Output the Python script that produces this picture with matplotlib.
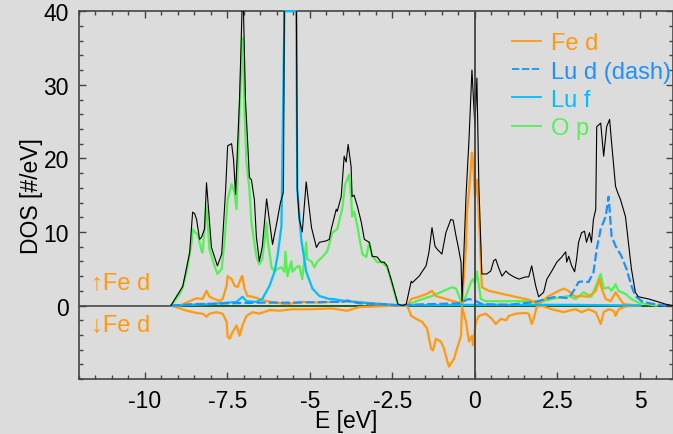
import numpy as np
import matplotlib
matplotlib.use("Agg")
import matplotlib.pyplot as plt
from matplotlib.ticker import MultipleLocator

# total DOS (black)
tot_e = [-9.21, -8.85, -8.64, -8.55, -8.49, -8.43, -8.34, -8.28, -8.19, -8.13, -8.07, -7.98, -7.80,
         -7.67, -7.55, -7.49, -7.37, -7.31, -7.25, -7.13, -7.03, -6.95, -6.83, -6.77, -6.68, -6.62,
         -6.53, -6.44, -6.31, -6.13, -6.0, -5.89, -5.80, -5.77, -5.41, -5.38, -5.32, -5.23, -5.11,
         -4.95, -4.80, -4.71, -4.50, -4.41, -4.35, -4.20, -4.17, -4.05, -3.96, -3.90, -3.84, -3.75,
         -3.72, -3.66, -3.56, -3.44, -3.35, -3.20, -3.11, -2.96, -2.84, -2.75, -2.66, -2.54, -2.33,
         -2.20, -2.08, -1.93, -1.90, -1.69, -1.48, -1.39, -1.30, -1.21, -1.15, -1.00, -0.88, -0.73,
         -0.66, -0.57, -0.51, -0.42, -0.39, -0.27, -0.18, -0.09, 0.0, 0.06, 0.12, 0.21, 0.36, 0.48,
         0.57, 0.63, 0.73, 0.82, 0.94, 1.03, 1.18, 1.33, 1.54, 1.63, 1.72, 1.75, 1.84, 1.93, 2.08,
         2.18, 2.33, 2.48, 2.63, 2.75, 2.78, 2.84, 2.93, 3.02, 3.08, 3.14, 3.23, 3.32, 3.38, 3.47,
         3.53, 3.59, 3.66, 3.69, 3.81, 3.90, 3.99, 4.08, 4.14, 4.23, 4.26, 4.32, 4.41, 4.47, 4.56,
         4.65, 4.74, 4.86, 4.95, 5.26, 5.56, 5.77, 6.0]
tot_dos = [0, 2.6, 7.2, 12.7, 12.5, 11.7, 9.0, 9.3, 10.4, 16.7, 13.1, 7.9, 5.4,
           7.0, 15.8, 21.7, 22.0, 19.8, 15.1, 28.0, 44.0, 28.0, 17.4, 17.1, 14.4, 9.4,
           6.0, 8.0, 14.5, 8.3, 11.3, 14.0, 15.4, 44.0, 44.0, 15.8, 11.7, 10.0, 16.8,
           10.6, 7.9, 8.6, 8.8, 9.0, 10.4, 13.1, 12.8, 14.8, 20.3, 19.5, 21.9, 18.9,
           14.8, 15.0, 13.5, 11.3, 9.0, 8.6, 6.7, 6.6, 5.9, 5.9, 5.4, 3.6, 0.2,
           0.0, 0.2, 3.3, 3.1, 4.0, 5.4, 7.3, 10.6, 8.1, 7.7, 7.0, 9.9, 11.7,
           11.6, 9.4, 8.1, 5.9, 0.6, 14.8, 22.5, 32.0, 24.3, 30.9, 16.2, 4.3, 4.3, 4.7,
           6.1, 6.3, 5.0, 4.0, 4.7, 4.3, 3.9, 3.6, 3.9, 3.9, 5.4, 4.7, 2.7, 1.2, 1.8,
           3.6, 4.7, 5.9, 6.6, 7.3, 5.9, 6.7, 5.4, 4.6, 6.3, 8.6, 9.9, 10.1, 8.6, 9.9,
           8.6, 11.7, 13.1, 24.3, 24.8, 20.3, 24.3, 25.3, 22.1, 17.6, 16.2, 15.4, 14.4, 13.5, 12.1,
           8.6, 5.0, 1.8, 1.2, 0.9, 0.5, 0.2, 0.0]

# Fe d, spin up
fe_up_e = [-9.2, -8.94, -8.64, -8.43, -8.25, -8.13, -8.04, -7.89, -7.73, -7.64, -7.52, -7.49,
           -7.37, -7.28, -7.19, -7.07, -7.04, -6.98, -6.89, -6.74, -6.53, -6.31, -6.01, -5.7,
           -5.23, -4.71, -4.41, -3.81, -2.8, -2.33, -2.05, -1.93, -1.69, -1.45, -1.30, -1.18,
           -0.88, -0.57, -0.39, -0.27, -0.24, -0.18, -0.09, -0.06, 0.0, 0.06, 0.09, 0.18, 0.21,
           0.42, 0.63, 0.82, 1.12, 1.63, 1.93, 2.24, 2.54, 2.69, 2.84, 2.93, 3.05, 3.23, 3.44,
           3.66, 3.78, 3.84, 3.96, 4.11, 4.26, 4.35, 4.50, 5.0]
fe_up_dos = [0, 0, 0.6, 1.0, 0.9, 2.0, 1.2, 0.9, 0.6, 0.9, 2.7, 4.0,
             3.6, 2.7, 2.5, 3.9, 4.0, 2.3, 1.3, 1.2, 0.9, 0.6, 0.4, 0.2,
             0.5, 0.4, 0.5, 0.6, 0.2, 0.0, 0.0, 0.9, 1.2, 1.6, 2.0, 1.3,
             0.9, 0.5, 0.2, 8.1, 12.7, 15.4, 20.8, 19.8, 14.8, 17.1, 14.8, 5.9, 2.5,
             2.0, 1.8, 1.6, 1.3, 0.8, 0.2, 1.3, 2.0, 2.3, 2.0, 1.6, 1.2, 1.3, 1.2,
             2.0, 3.6, 2.3, 0.9, 0.6, 1.8, 1.2, 0.2, 0.0]

# Fe d, spin down (drawn negative)
fe_dn_e = [-9.2, -8.73, -8.43, -8.25, -8.13, -8.04, -7.83, -7.64, -7.52, -7.49, -7.43, -7.34,
           -7.22, -7.13, -7.04, -6.92, -6.74, -6.53, -6.22, -5.92, -5.53, -5.02, -4.41, -4.32,
           -3.87, -3.50, -2.9, -2.33, -2.05, -1.93, -1.78, -1.60, -1.45, -1.33, -1.27, -1.18,
           -1.03, -0.94, -0.79, -0.63, -0.54, -0.42, -0.39, -0.27, -0.18, -0.09, -0.06, 0.03,
           0.12, 0.33, 0.51, 0.63, 0.79, 0.94, 1.03, 1.24, 1.54, 1.63, 1.72, 1.78, 1.87, 2.0,
           2.33, 2.69, 2.84, 3.05, 3.23, 3.44, 3.66, 3.81, 3.90, 4.05, 4.20, 4.26, 4.35, 4.56, 5.0]
fe_dn_dos = [0, -0.7, -1.0, -1.1, -1.5, -1.1, -0.9, -1.1, -2.2, -4.2, -4.5, -3.6,
             -2.7, -4.1, -2.7, -1.4, -0.9, -1.1, -0.6, -0.7, -0.5, -0.5, -0.4, -0.4,
             -0.7, -0.2, -0.1, 0.0, 0.0, -1.4, -1.8, -2.2, -3.1, -5.8, -6.1, -4.5,
             -4.9, -5.8, -8.3, -7.2, -5.8, -4.1, -0.2, -2.2, -4.9, -4.1, -5.4, -2.2,
             -1.4, -1.1, -1.8, -2.5, -1.8, -2.0, -1.4, -1.1, -1.0, -1.1, -2.5, -1.8, -0.2, 0.0,
             -0.5, -0.9, -0.7, -0.5, -0.9, -0.5, -0.9, -2.5, -0.9, -0.5, -0.7, -1.4, -0.5, -0.1, 0.0]

# Lu d (dashed)
lud_e = [-9.2, -8.5, -7.5, -6.5, -5.5, -4.41, -4.0, -3.87, -3.5, -2.8, -2.33, -1.39, -0.5,
         -0.18, 0.03, 0.21, 1.03, 1.84, 2.14, 2.45, 2.84, 2.99, 3.14, 3.29, 3.44, 3.59, 3.69,
         3.81, 3.96, 4.05, 4.14, 4.26, 4.44, 4.59, 4.74, 4.86, 5.05, 5.3, 5.8]
lud_dos = [0, 0.2, 0.3, 0.4, 0.4, 0.5, 0.5, 0.7, 0.3, 0.2, 0.05, 0.2, 0.3,
           0.9, 0.6, 0.2, 0.1, 0.5, 0.9, 1.2, 1.0, 2.0, 3.2, 3.3, 3.2, 4.5, 7.7,
           10.4, 12.1, 14.8, 9.4, 8.1, 6.7, 5.0, 2.7, 1.3, 0.6, 0.3, 0.0]

# Lu f
luf_e = [-9.2, -8.0, -7.22, -7.04, -6.92, -6.62, -6.44, -6.22, -6.07, -5.98, -5.86, -5.77,
         -5.41, -5.38, -5.26, -5.11, -4.92, -4.71, -4.41, -4.32, -3.90, -3.2, -2.33, 0.0, 3.0, 5.0]
luf_dos = [0, 0.2, 0.5, 1.2, 0.6, 0.5, 0.9, 2.7, 4.6, 6.7, 10.8, 40.0,
           40.0, 15.8, 9.0, 4.6, 2.3, 1.3, 0.9, 0.9, 0.6, 0.3, 0.05, 0.1, 0.1, 0.0]

# O p
op_e = [-9.2, -8.94, -8.85, -8.73, -8.58, -8.55, -8.49, -8.40, -8.28, -8.25, -8.13, -8.04,
        -7.89, -7.80, -7.67, -7.58, -7.49, -7.37, -7.28, -7.22, -7.13, -7.04, -7.0, -6.98,
        -6.92, -6.83, -6.77, -6.62, -6.53, -6.44, -6.31, -6.28, -6.16, -6.07, -5.98, -5.86,
        -5.77, -5.74, -5.68, -5.56, -5.53, -5.41, -5.32, -5.23, -5.11, -5.08, -4.95, -4.86,
        -4.77, -4.62, -4.47, -4.32, -4.17, -4.02, -3.93, -3.87, -3.81, -3.75, -3.72, -3.66,
        -3.56, -3.41, -3.29, -3.20, -3.11, -2.96, -2.81, -2.66, -2.54, -2.33, -2.05, -1.78,
        -1.30, -0.69, -0.57, -0.39, -0.27, -0.12, -0.06, 0.0, 0.06, 0.18, 0.33, 0.82, 1.84,
        2.0, 2.33, 2.84, 3.05, 3.29, 3.53, 3.81, 3.90, 4.05, 4.14, 4.26, 4.35, 4.56, 4.74,
        4.95, 5.5]
op_dos = [0, 1.6, 2.5, 4.6, 8.6, 10.4, 10.0, 9.7, 7.4, 7.2, 13.5, 7.7,
          5.4, 4.3, 5.0, 9.0, 14.4, 16.5, 15.4, 13.1, 26.6, 36.4, 31.0, 26.6,
          19.4, 15.8, 11.3, 6.7, 5.6, 6.3, 11.3, 9.0, 5.2, 4.6, 5.0, 5.2,
          4.6, 7.3, 4.0, 6.0, 4.6, 5.2, 5.4, 3.6, 8.6, 6.3, 6.0, 5.2,
          6.0, 6.6, 7.4, 9.9, 10.4, 13.1, 16.5, 17.1, 17.8, 14.8, 12.1, 12.8,
          10.8, 7.0, 6.6, 8.6, 6.7, 5.9, 5.9, 5.2, 3.4, 0.0, 0.0, 0.6,
          1.3, 2.5, 2.3, 0.2, 1.3, 3.2, 3.6, 3.0, 4.6, 0.9, 0.6, 0.6, 0.6,
          0.5, 0.9, 1.3, 0.9, 1.8, 1.2, 4.3, 2.3, 2.5, 2.0, 2.9, 2.0, 1.6, 0.9,
          0.4, 0.0]

xticks = [-10, -7.5, -5, -2.5, 0, 2.5, 5]
xticklabels = ["-10", "-7.5", "-5", "-2.5", "0", "2.5", "5"]
yticks = [0, 10, 20, 30, 40]

bg = "#dcdcdc"
orange = "#ff9a10"
lud_c = "#1e90ff"
luf_c = "#00bfff"
op_c = "#55f055"

plt.rcParams["font.family"] = ["Liberation Sans", "DejaVu Sans"]

fig = plt.figure(figsize=(6.73, 4.35), dpi=100, facecolor=bg)
ax = fig.add_axes([0.117, 0.126, 0.883, 0.846], facecolor=bg)

ax.axhline(0, color="#555555", lw=1.3, zorder=1)
ax.plot(tot_e, np.zeros(len(tot_e)), color="#1f5f1f", lw=1.3, zorder=1.5)
ax.axvline(0, color="#444444", lw=1.3, zorder=6)

ax.plot(op_e, op_dos, color=op_c, lw=1.6, label="O p", zorder=2)
ax.plot(fe_up_e, fe_up_dos, color=orange, lw=1.6, zorder=3)
ax.plot(fe_dn_e, fe_dn_dos, color=orange, lw=1.6, zorder=3)
ax.plot(luf_e, luf_dos, color=luf_c, lw=1.6, zorder=3, clip_on=False)
ax.plot(lud_e, lud_dos, color=lud_c, lw=1.6, ls=(0, (4, 1.5)), zorder=3)
ax.plot(tot_e, tot_dos, color="black", lw=0.8, zorder=4)

h1, = ax.plot([], [], color=orange, lw=1.3)
h2, = ax.plot([], [], color=lud_c, lw=1.3, ls=(0, (4, 1.5)))
h3, = ax.plot([], [], color=luf_c, lw=1.3)
h4, = ax.plot([], [], color=op_c, lw=1.3)
leg = ax.legend([h1, h2, h3, h4], ["Fe d", "Lu d (dash)", "Lu f", "O p"],
                loc="upper right", frameon=False, fontsize=17, handlelength=1.2,
                handletextpad=0.42, labelspacing=0.26, borderaxespad=0.0,
                bbox_to_anchor=(1.012, 0.968))
for t, c in zip(leg.get_texts(), [orange, lud_c, luf_c, op_c]):
    t.set_color(c)

ax.text(-11.62, 3.1, "\u2191Fe d", color=orange, fontsize=17, va="center", ha="left")
ax.text(-11.62, -2.6, "\u2193Fe d", color=orange, fontsize=17, va="center", ha="left")

ax.set_xlim(-12, 6)
ax.set_ylim(-10, 40)
ax.set_xticks(xticks)
ax.set_xticklabels(xticklabels)
ax.set_yticks(yticks)
ax.xaxis.set_minor_locator(MultipleLocator(0.5))
ax.yaxis.set_minor_locator(MultipleLocator(2))
ax.tick_params(which="both", direction="in", top=True, right=True, labelsize=16.5,
               color="#444444", width=1.0)
ax.tick_params(which="major", length=5, pad=7)
ax.tick_params(which="minor", length=3)
for s in ax.spines.values():
    s.set_color("#444444")
    s.set_linewidth(1.2)

ax.set_xlabel("E [eV]", fontsize=16.5, labelpad=0)
ax.xaxis.set_label_coords(0.45, -0.08)
ax.set_ylabel("DOS [#/eV]", fontsize=16.5, labelpad=0.5)

fig.savefig("out.png", dpi=100, facecolor=bg)
